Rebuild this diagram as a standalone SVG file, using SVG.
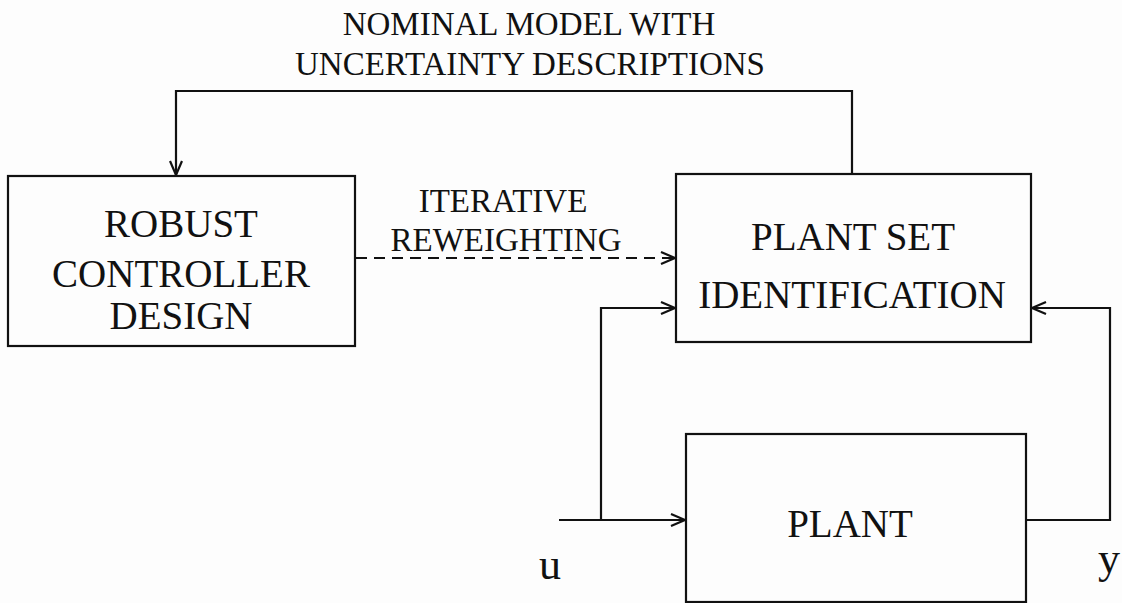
<svg xmlns="http://www.w3.org/2000/svg" width="1122" height="603" viewBox="0 0 1122 603">
<style>
  .box{fill:none;stroke:#111;stroke-width:2.2}
  .ln{fill:none;stroke:#111;stroke-width:2.2}
  .dash{stroke-dasharray:11 7}
  .t{font-family:"Liberation Serif","Times New Roman",serif;fill:#111;text-anchor:middle}
  .big{font-size:39px}
  .sm{font-size:33px}
  .sig{font-size:44px}
</style>
<defs>
  <marker id="ah" viewBox="0 0 16 14" refX="15" refY="7" markerWidth="16" markerHeight="14" markerUnits="userSpaceOnUse" orient="auto">
    <path d="M1,1 L15,7 L1,13" fill="none" stroke="#111" stroke-width="2.2"/>
  </marker>
</defs>
<rect width="1122" height="603" fill="#fdfdfd"/>
<g id="connectors">
  <path class="ln" d="M852,174 V91 H176 V175" marker-end="url(#ah)"/>
  <path class="ln dash" d="M356,258 H675" marker-end="url(#ah)"/>
  <path class="ln" d="M559,520 H685" marker-end="url(#ah)"/>
  <path class="ln" d="M601,520 V308 H675" marker-end="url(#ah)"/>
  <path class="ln" d="M1026,520 H1110 V308 H1032" marker-end="url(#ah)"/>
</g>
<g id="title">
  <text class="t sm" x="529" y="35">NOMINAL MODEL WITH</text>
  <text class="t sm" x="530" y="75">UNCERTAINTY DESCRIPTIONS</text>
</g>
<g id="label-iterative">
  <text class="t sm" x="503" y="212">ITERATIVE</text>
  <text class="t sm" x="506" y="251">REWEIGHTING</text>
</g>
<g id="robust">
  <rect class="box" x="8" y="176" width="347" height="170"/>
  <text class="t big" x="181" y="237">ROBUST</text>
  <text class="t big" x="181" y="287">CONTROLLER</text>
  <text class="t big" x="181" y="329">DESIGN</text>
</g>
<g id="plantset">
  <rect class="box" x="676" y="174" width="355" height="168"/>
  <text class="t big" x="853" y="250">PLANT SET</text>
  <text class="t big" x="852" y="308">IDENTIFICATION</text>
</g>
<g id="plant">
  <rect class="box" x="686" y="434" width="340" height="168"/>
  <text class="t big" x="850" y="537">PLANT</text>
</g>
<g id="signals">
  <text class="t sig" x="550" y="579">u</text>
  <text class="t sig" x="1109" y="573">y</text>
</g>
</svg>
